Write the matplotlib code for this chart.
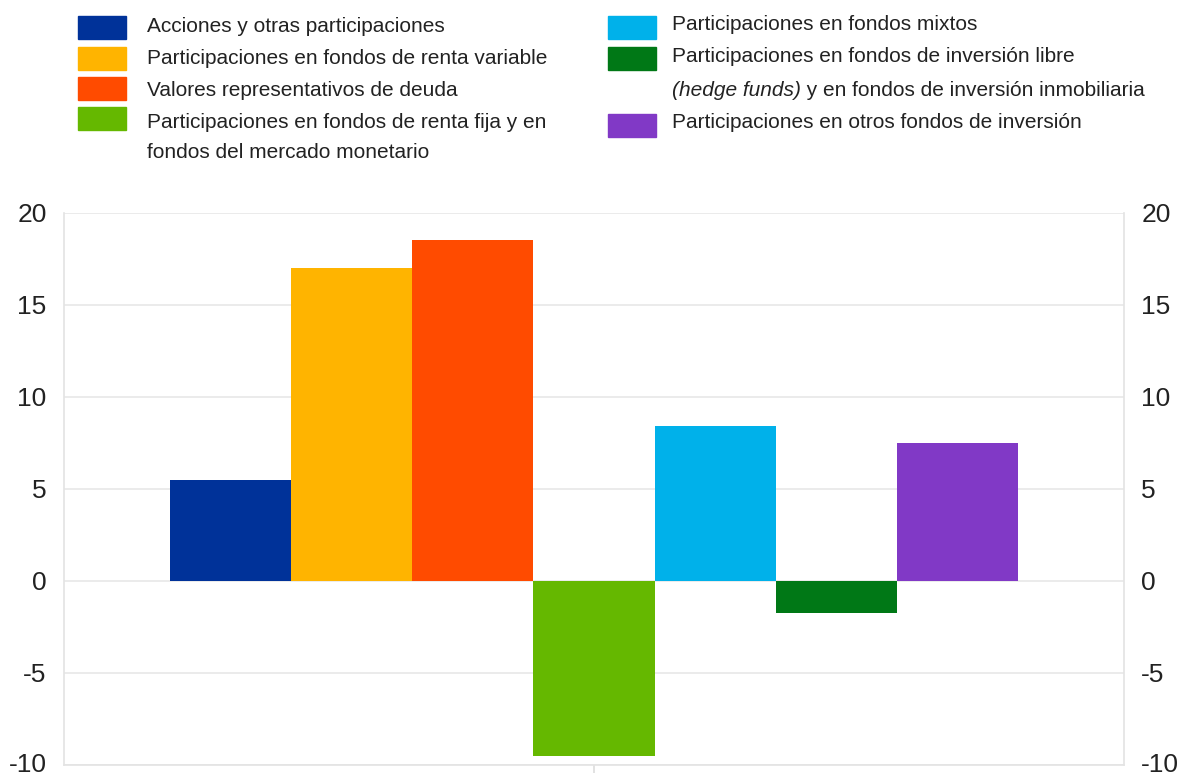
import numpy as np
import matplotlib
matplotlib.use("Agg")
import matplotlib.pyplot as plt
import matplotlib.transforms as mtransforms
from matplotlib.patches import Rectangle

plt.rcParams['font.family'] = ['Liberation Sans', 'DejaVu Sans']

# data
series = [
    'Acciones y otras participaciones',
    'Participaciones en fondos de renta variable',
    'Valores representativos de deuda',
    'Participaciones en fondos de renta fija y en\nfondos del mercado monetario',
    'Participaciones en fondos mixtos',
    'Participaciones en fondos de inversión libre',
    'Participaciones en otros fondos de inversión',
]
values = [5.5, 17.0, 18.55, -9.5, 8.4, -1.75, 7.5]
colors = ['#003299', '#FFB400', '#FF4B00', '#65B800', '#00B1EA', '#007816', '#8139C6']
yticks = [-10, -5, 0, 5, 10, 15, 20]

W, H = 1180, 775
fig = plt.figure(figsize=(W / 100, H / 100), dpi=100)
ax = fig.add_axes([64 / W, 1 - 765 / H, (1124 - 64) / W, (765 - 213) / H])

n = len(values)
width = 0.8 / n
offsets = (np.arange(n) - (n - 1) / 2) * width
bars = ax.bar(offsets, values, width=width, color=colors, zorder=3)

ax.set_xlim(-0.5, 0.5)
ax.set_ylim(-10, 20)
ax.set_yticks(yticks)
ax.set_yticklabels([str(t) for t in yticks])
ax.yaxis.grid(True, color='#e8e8e8', linewidth=1.2, zorder=0)
ax.tick_params(axis='y', length=0, labelsize=19, pad=12.5, labelcolor='#222222',
               right=True, labelright=True)
ax.set_xticks([0])
ax.set_xticklabels([''])
ax.tick_params(axis='x', length=6, color='#dddddd', width=1.2)
for side in ['left', 'right', 'bottom']:
    ax.spines[side].set_color('#e3e3e3')
    ax.spines[side].set_linewidth(1.2)
ax.spines['top'].set_visible(False)

# lift the lowest labels a little so they stay inside the figure
lift = mtransforms.ScaledTranslation(0, 3 / 100, fig.dpi_scale_trans)
bottom_tick = ax.yaxis.get_major_ticks()[0]
for lab in (bottom_tick.label1, bottom_tick.label2):
    lab.set_transform(lab.get_transform() + lift)

# legend drawn by hand (two columns, wrapped entries)
def fy(y):
    return 1 - y / H

fs = 15
tc = '#222222'
left_rows = [27.5, 58.5, 88, 118]
for i, yc in enumerate(left_rows):
    fig.patches.append(Rectangle((78 / W, fy(yc + 11.5)), 48 / W, 23 / H,
                                 transform=fig.transFigure, color=bars[i].get_facecolor()))
left_lines = [(27, series[0]), (59, series[1]), (90, series[2]),
              (122, series[3].split('\n')[0]), (152, series[3].split('\n')[1])]
for yc, txt in left_lines:
    fig.text(147 / W, fy(yc), txt, fontsize=fs, color=tc, va='center', ha='left')

right_rows = [27.5, 58.5, 125]
for j, yc in zip([4, 5, 6], right_rows):
    fig.patches.append(Rectangle((608 / W, fy(yc + 11.5)), 48 / W, 23 / H,
                                 transform=fig.transFigure, color=bars[j].get_facecolor()))
fig.text(672 / W, fy(24), series[4], fontsize=fs, color=tc, va='center', ha='left')
fig.text(672 / W, fy(56), series[5], fontsize=fs, color=tc, va='center', ha='left')
t = fig.text(672 / W, fy(90), '(hedge funds)', fontsize=fs, color=tc, va='center',
             ha='left', style='italic')
fig.canvas.draw()
bb = t.get_window_extent()
fig.text(bb.x1 / W, fy(90), ' y en fondos de inversión inmobiliaria', fontsize=fs,
         color=tc, va='center', ha='left')
fig.text(672 / W, fy(122), series[6], fontsize=fs, color=tc, va='center', ha='left')

fig.savefig('out.png', dpi=100)
